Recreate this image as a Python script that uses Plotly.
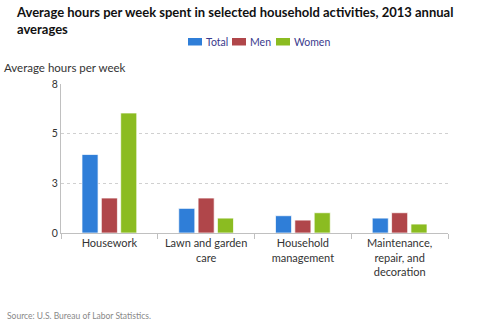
import plotly.graph_objects as go

categories = ["Housework", "Lawn and garden<br>care", "Household<br>management",
              "Maintenance,<br>repair, and<br>decoration"]
total = [3.95, 1.24, 0.87, 0.75]
men = [1.76, 1.76, 0.65, 1.02]
women = [6.04, 0.75, 1.02, 0.45]
series = [("Total", total, "#2f7ed8"), ("Men", men, "#b0464a"), ("Women", women, "#8bbc21")]

tickvals = [0, 2.5, 5, 7.5]
ticktext = ["0", "3", "5", "8"]

FONT = "Lato"
L, T, PW, PH = 61, 84, 387, 149


def px(x):
    return (x - L) / PW


def py(y):
    return (T + PH - y) / PH


fig = go.Figure()
for name, vals, col in series:
    fig.add_trace(go.Bar(x=categories, y=vals, name=name, showlegend=False,
                         marker=dict(color=col, line=dict(color="rgba(255,255,255,0.7)", width=1))))

annotations = [
    dict(text="<b>Average hours per week spent in selected household activities, 2013 annual<br>averages</b>",
         xref="paper", yref="paper", x=px(14), y=py(2),
         xanchor="left", yanchor="top", align="left", showarrow=False,
         font=dict(size=13, color="#111111", family=FONT)),
    dict(text="Average hours per week", xref="paper", yref="paper",
         x=px(2), y=py(68), xanchor="left", yanchor="middle",
         showarrow=False, font=dict(size=11.5, color="#333333", family=FONT)),
    dict(text="Source: U.S. Bureau of Labor Statistics.", xref="paper", yref="paper",
         x=px(5), y=py(316), xanchor="left", yanchor="middle",
         showarrow=False, font=dict(size=8.5, color="#888888", family=FONT)),
]
shapes = []
legend_pos = [188, 232, 276]
for (name, _, col), x0 in zip(series, legend_pos):
    shapes.append(dict(type="rect", xref="paper", yref="paper",
                       x0=px(x0), x1=px(x0 + 14), y0=py(45.5), y1=py(38),
                       fillcolor=col, line=dict(width=0)))
    annotations.append(dict(text=name, xref="paper", yref="paper", x=px(x0 + 16), y=py(42),
                            xanchor="left", yanchor="middle", showarrow=False,
                            font=dict(size=10.5, color="#3a3a8c", family=FONT)))

fig.update_layout(
    width=480, height=323,
    margin=dict(l=L, r=480 - L - PW, t=T, b=323 - T - PH),
    paper_bgcolor="white", plot_bgcolor="white",
    font=dict(family=FONT, color="#333333", size=10),
    barmode="group", bargap=0.4, bargroupgap=0.17,
    showlegend=False,
    xaxis=dict(showline=True, linecolor="#c0c0c0", linewidth=1, ticks="outside",
               tickson="boundaries", ticklen=5, tickcolor="#c0c0c0",
               tickfont=dict(size=11, color="#333333"), showgrid=False),
    yaxis=dict(range=[0, 7.5], tickvals=tickvals, ticktext=ticktext,
               showline=True, linecolor="#c0c0c0", linewidth=1,
               showgrid=True, gridcolor="#d0d0d0", griddash="dot", gridwidth=1,
               zeroline=False, ticks="", tickfont=dict(size=10.5, color="#333333")),
    annotations=annotations,
    shapes=shapes,
)

fig.write_html("out.html")
